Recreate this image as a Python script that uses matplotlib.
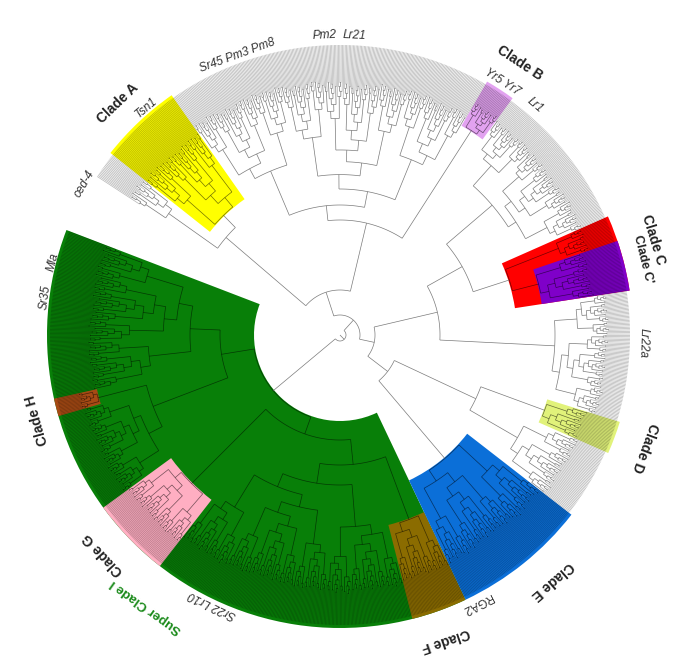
import numpy as np
import matplotlib.pyplot as plt
from matplotlib.collections import LineCollection
from matplotlib.patches import Wedge

plt.rcParams['font.family'] = ['Liberation Sans', 'DejaVu Sans']

# tree
# internal node = [radius, clade, child, child, ...]
# leaf group    = (number of leaves, radius of its root node, clade)
tree = [6, None,
        [87, 'I',
         [120, None, (124, 150, None), [200, None, (13, 250, 'H'), (74, 215, None)]],
         [105, None, (59, 210, 'G'), [130, None, (193, 150, None), (41, 197, 'F')]]],
        [20, None,
         [35, None,
          [60, None, (99, 162, 'E'), [150, None, (52, 205, None), (24, 218, 'D')]],
          [100, None, (96, 215, None),
           [140, None, [178, 'C', (37, 205, "C'"), (19, 235, None)], (111, 200, None)]]],
         [45, None,
          [115, None, (22, 243, 'B'), (241, 130, None)],
          [150, None, (61, 167, 'A'), (20, 210, None)]]]]

clade_order = ['I', 'H', 'G', 'F', 'E', 'D', 'C', "C'", 'B', 'A']
clade_colors = {'I': '#087f08', 'H': '#a64a14', 'G': '#ffaec2', 'F': '#8b6c00',
                'E': '#0b6fd8', 'D': '#e1f27a', 'C': '#ff0000', "C'": '#7f00c9',
                'B': '#e2a2f0', 'A': '#ffff00'}

# text, angle (deg), radius, weight, style, colour, size
labels = [
    ("Clade A", 133.7, 321, 'bold', 'normal', '#222222', 10),
    ("Tsn1", 130.4, 298, 'normal', 'italic', '#333333', 8.5),
    ("ced-4", 149.5, 297, 'normal', 'italic', '#333333', 8.5),
    ("Sr45 Pm3 Pm8", 110.1, 298, 'normal', 'italic', '#333333', 8.5),
    ("Pm2", 92.9, 300, 'normal', 'italic', '#333333', 8.5),
    ("Lr21", 87.3, 300, 'normal', 'italic', '#333333', 8.5),
    ("Clade B", 56.5, 326, 'bold', 'normal', '#222222', 10),
    ("Yr5 Yr7", 57.3, 300, 'normal', 'italic', '#333333', 8.5),
    ("Lr1", 49.7, 301, 'normal', 'italic', '#333333', 8.5),
    ("Clade C", 16.9, 327, 'bold', 'normal', '#222222', 10),
    ("Clade C'", 14.0, 312, 'bold', 'normal', '#222222', 9),
    ("Lr22a", -1.5, 303, 'normal', 'italic', '#333333', 8.5),
    ("Clade D", -20.3, 325, 'bold', 'normal', '#222222', 10),
    ("Clade E", -49.2, 325, 'bold', 'normal', '#222222', 10),
    ("RGA2", -62.9, 301, 'normal', 'normal', '#333333', 8.5),
    ("Clade F", -71.0, 323, 'bold', 'normal', '#222222', 10),
    ("Sr22 Lr10", 244.6, 298, 'normal', 'italic', '#333333', 8.5),
    ("Super Clade I", 234.5, 333, 'bold', 'normal', '#1a8a1a', 9.5),
    ("Clade G", 222.9, 323, 'bold', 'normal', '#222222', 10),
    ("Clade H", 195.7, 315, 'bold', 'normal', '#222222', 10),
    ("Sr35", 172.7, 297, 'normal', 'italic', '#333333', 8.5),
    ("Mla", 165.7, 296, 'normal', 'italic', '#333333', 8.5),
]

CX, CY = 340, 331
RT = 290
A_START, A_END = 159.0, 507.0


def comb(n, r0, flip=False):
    if n == 1:
        return 'leaf'
    s = max(1, n // 3)
    side = comb(s, r0 + (RT - r0) * 0.3, not flip)
    main = comb(n - s, r0 + (RT - r0) * 0.1, not flip)
    kids = [side, main] if flip else [main, side]
    return [r0, None] + kids


def count(node):
    if isinstance(node, tuple):
        return node[0]
    return sum(count(k) for k in node[2:])


N = count(tree)
STEP = (A_END - A_START) / N


def xy(a, r):
    t = np.radians(a)
    return CX + r * np.cos(t), CY + r * np.sin(t)


def radial(a, r1, r2):
    return [xy(a, r1), xy(a, r2)]


def arc(r, a1, a2):
    aa = np.linspace(a1, a2, max(2, int(abs(a2 - a1)) + 2))
    return [xy(a, r) for a in aa]


segs = {'in': [], 'leaf': [], 'dark': [], 'darkleaf': []}
spans = {}
leaf_i = [0]


def layout(node, r_par, inside):
    if node == 'leaf':
        a = A_START + (leaf_i[0] + 0.5) * STEP
        leaf_i[0] += 1
        segs['darkleaf' if inside else 'leaf'].append(radial(a, r_par, RT))
        return a, a, a
    if isinstance(node, tuple):
        n, r0, name = node
        node = comb(n, r0)
        if node == 'leaf':
            return layout(node, r_par, inside)
        node[1] = name
    r, name = node[0], node[1]
    ins = inside or name is not None
    res = [layout(k, r, ins) for k in node[2:]]
    lo, hi = res[0][1], res[-1][2]
    a = (res[0][0] + res[-1][0]) / 2
    segs['dark' if ins else 'in'].append(arc(r, res[0][0], res[-1][0]))
    segs['dark' if inside else 'in'].append(radial(a, r_par, r))
    if name:
        spans[name] = (lo, hi, r)
    return a, lo, hi


layout(tree, 0, False)

fig = plt.figure(figsize=(6.8, 6.66), dpi=100)
ax = fig.add_axes([0, 0, 1, 1])
ax.set_xlim(0, 680)
ax.set_ylim(0, 666)
ax.set_aspect('equal')
ax.axis('off')

for z, name in enumerate(clade_order):
    lo, hi, r = spans[name]
    ax.add_patch(Wedge((CX, CY), RT + 3, lo - STEP / 2, hi + STEP / 2,
                       width=RT + 3 - r + 1, facecolor=clade_colors[name],
                       edgecolor='none', zorder=1 + z * 0.01))

ax.add_collection(LineCollection(segs['leaf'], colors='#b5b5b5', linewidths=0.5, zorder=2))
ax.add_collection(LineCollection(segs['in'], colors='#7a7a7a', linewidths=0.5, zorder=2))
ax.add_collection(LineCollection(segs['darkleaf'], colors='#000000', alpha=0.3,
                                 linewidths=0.5, zorder=2))
ax.add_collection(LineCollection(segs['dark'], colors='#000000', alpha=0.55,
                                 linewidths=0.5, zorder=2))

for txt, a, r, w, st, c, fs in labels:
    x, y = xy(a, r)
    ax.text(x, y, txt, rotation=a - 90, rotation_mode='anchor', ha='center',
            va='center', fontsize=fs, fontweight=w, fontstyle=st, color=c)

fig.savefig('out.png', dpi=100)
